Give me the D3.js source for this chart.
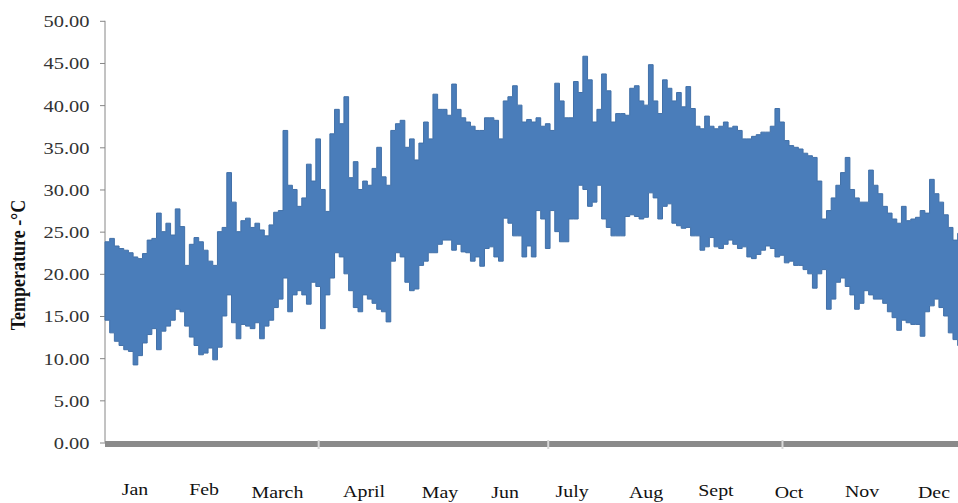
<!DOCTYPE html>
<html>
<head>
<meta charset="utf-8">
<script src="https://cdn.jsdelivr.net/npm/d3@7"></script>
<style>
  html, body { margin: 0; padding: 0; background: #fff; overflow: hidden; }
  svg { display: block; }
</style>
</head>
<body>
<svg id="chart" width="958" height="503"></svg>
<script>
// Daily temperature envelope, sampled every 2 days (day of year 0..364)
const dayStep = 2;
const dailyMax = [
  23.8,24.2,23.3,23.0,22.8,22.5,22.0,21.8,22.4,24.0,24.2,27.2,25.0,26.0,24.6,27.7,25.6,21.0,23.5,24.3,
  23.8,22.8,21.5,21.0,25.0,25.5,32.0,28.5,25.0,26.3,26.6,25.5,26.0,25.2,24.5,25.8,27.3,27.5,
  37.0,30.5,30.0,28.0,29.0,33.0,31.0,36.0,30.0,27.4,36.6,39.5,37.8,41.0,31.4,33.3,30.0,31.0,30.5,32.5,
  35.0,31.5,30.5,37.0,37.8,38.2,35.0,36.0,33.5,35.5,38.0,36.0,41.3,39.5,39.5,
  38.8,42.5,39.5,38.5,38.0,37.5,37.0,37.0,38.5,38.5,38.2,36.0,40.5,41.0,42.3,40.0,38.0,38.3,38.0,38.5,
  37.5,37.8,37.0,42.6,40.5,38.5,38.5,42.8,41.5,45.8,43.0,38.0,39.5,43.7,41.7,38.0,39.0,
  39.0,38.8,42.0,42.3,40.5,40.0,44.8,40.5,39.0,43.0,42.0,40.5,41.5,39.8,42.2,39.6,37.5,37.2,38.7,37.5,
  37.2,37.5,38.0,37.3,37.5,37.0,36.0,36.0,36.3,36.5,36.8,36.8,37.5,39.6,38.0,35.8,
  35.2,35.0,34.8,34.3,34.0,33.8,31.0,26.5,27.5,29.0,30.5,32.0,33.8,30.0,29.0,28.5,28.5,32.3,30.5,29.5,
  28.0,27.2,26.5,26.0,28.0,26.3,26.5,26.7,27.5,27.2,31.2,29.5,28.5,27.0,25.5,24.0,24.8
];
const dailyMin = [
  14.5,13.0,12.0,11.5,11.0,10.8,9.2,10.3,11.8,12.8,13.5,11.0,13.2,13.8,14.5,15.8,15.5,13.8,12.5,11.5,
  10.4,10.6,11.2,9.8,11.3,15.0,17.5,14.2,12.3,14.0,13.8,13.5,14.2,12.3,13.8,14.5,16.0,17.0,
  19.5,15.5,17.5,18.0,17.5,16.4,19.0,18.5,13.5,17.5,19.5,22.5,22.0,20.0,18.0,16.0,15.5,17.5,17.0,16.5,
  15.8,15.5,14.3,21.5,22.5,22.0,19.0,18.0,18.2,21.0,21.5,22.5,22.5,23.5,24.0,
  24.0,22.8,23.5,22.6,22.5,21.5,22.0,20.9,23.0,23.2,22.0,21.5,26.6,26.0,24.5,24.5,22.0,23.3,22.0,27.5,
  26.5,23.0,27.5,25.0,23.8,23.8,26.5,26.5,30.5,30.0,28.0,28.5,30.5,26.5,25.5,24.5,24.5,
  24.5,26.8,27.0,26.8,26.5,26.7,29.6,29.0,26.5,28.0,28.3,26.0,25.7,25.4,25.5,24.5,24.5,22.8,23.2,24.3,
  23.2,23.0,23.5,24.0,23.5,23.0,23.2,22.0,21.8,22.3,22.8,23.3,23.0,22.0,22.2,21.3,
  21.5,21.0,21.0,20.5,20.0,18.3,20.0,20.5,15.8,17.0,19.0,19.5,18.5,17.5,15.8,16.5,18.0,17.5,17.0,17.0,
  16.5,15.5,14.8,13.3,14.5,14.2,14.0,14.0,12.6,15.5,16.2,17.0,16.0,15.0,13.0,12.2,11.5
];

// Axis labels
const yTicks = [0, 5, 10, 15, 20, 25, 30, 35, 40, 45, 50];
const monthLabels = ["Jan","Feb","March","April","May","Jun","July","Aug","Sept","Oct","Nov","Dec"];
const monthLabelDays = [12.8, 42.3, 73.6, 110.6, 143, 170.8, 199.4, 231, 260.8, 292, 323.2, 353.9];
const xTickDays = [91, 189, 289];
const yTitle = "Temperature -°C";

// Layout
const monthBaselines = [495, 495, 498, 497, 498, 498, 497, 498, 496, 498, 497, 498];
const serif = "'Liberation Serif','Times New Roman',serif";
const stretch = 1.17;

const svg = d3.select("#chart");

const x = d3.scaleLinear().domain([0, 365]).range([105, 960]);
const y = d3.scaleLinear().domain([0, 50]).range([442.5, 20.8]);

const series = dailyMax.map((hi, i) => ({ day: i * dayStep, hi, lo: dailyMin[i] }));
// extend the last step to the end of the year
series.push({ day: 366, hi: dailyMax[dailyMax.length - 1], lo: dailyMin[dailyMin.length - 1] });

// Y axis
const yAxis = d3.axisLeft(y).tickValues(yTicks).tickSize(5).tickFormat(d3.format(".2f"));
const gy = svg.append("g").attr("transform", "translate(105,0)").call(yAxis);
gy.select(".domain").attr("stroke", "#868686").attr("d", `M0,${y(50)}V${y(0)}`);
gy.selectAll(".tick line").attr("stroke", "#868686");
gy.selectAll(".tick text").remove();
gy.selectAll(".tick").append("g")
  .attr("transform", `translate(-15.5,0) scale(${stretch},1)`)
  .append("text")
  .attr("text-anchor", "end")
  .attr("dy", "0.34em")
  .attr("fill", "#333")
  .attr("font-family", serif)
  .attr("font-size", 17.5)
  .text(d => d3.format(".2f")(d));

// Temperature band
const band = d3.area()
  .x(d => x(d.day))
  .y0(d => y(d.lo))
  .y1(d => y(d.hi))
  .curve(d3.curveStepAfter);

svg.append("path")
  .datum(series)
  .attr("d", band)
  .attr("fill", "#4a7dba")
  .attr("stroke", "#4170a8")
  .attr("stroke-width", 1);

// Category axis bar
const xAxis = d3.axisBottom(x).tickValues(xTickDays).tickSize(8).tickFormat("");
const gx = svg.append("g").attr("transform", `translate(0,${y(0) - 1.5})`).call(xAxis);
gx.select(".domain").remove();
gx.insert("rect", ":first-child")
  .attr("x", x(0))
  .attr("y", 0)
  .attr("width", 958 - x(0))
  .attr("height", 6)
  .attr("fill", "#8a8a8a");
gx.selectAll(".tick line").attr("stroke", "#d8d8d8").attr("stroke-width", 2).attr("y1", -1);

// Month labels
svg.append("g").selectAll("g")
  .data(monthLabels)
  .join("g")
  .attr("transform", (d, i) => `translate(${x(monthLabelDays[i])},${monthBaselines[i]}) scale(${stretch},1)`)
  .append("text")
  .attr("text-anchor", "middle")
  .attr("fill", "#111")
  .attr("font-family", serif)
  .attr("font-size", 17)
  .text(d => d);

// Y axis title
svg.append("g")
  .attr("transform", `translate(25,265) scale(${stretch},1) rotate(-90)`)
  .append("text")
  .attr("text-anchor", "middle")
  .attr("fill", "#111")
  .attr("font-family", serif)
  .attr("font-weight", "bold")
  .attr("font-size", 18)
  .text(yTitle);
</script>
</body>
</html>
